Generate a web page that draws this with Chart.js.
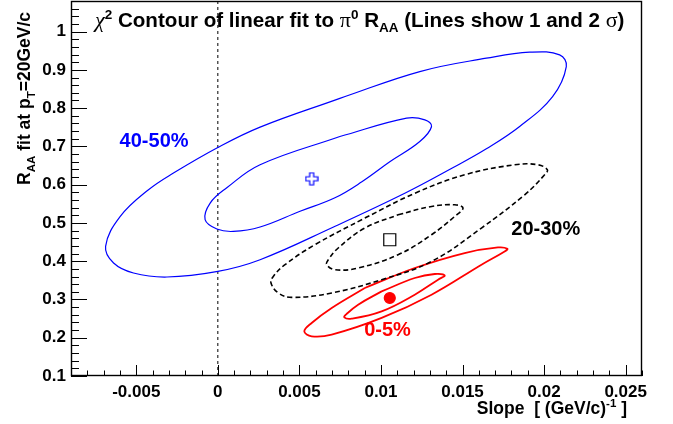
<!DOCTYPE html>
<html>
<head>
<meta charset="utf-8">
<script src="https://cdn.jsdelivr.net/npm/chart.js@4"></script>
<style>
  html, body { margin: 0; padding: 0; background: #fff; }
  canvas { display: block; }
</style>
</head>
<body>
<canvas id="chart" width="673" height="424"></canvas>
<script>
// Chi-square contours (1 and 2 sigma) of the linear R_AA fit, per centrality class.
// Each contour is a closed list of [slope, R_AA] points.

const xRange = [-0.009, 0.026];
const yRange = [0.1, 1.08];

const xTickValues = [-0.005, 0, 0.005, 0.01, 0.015, 0.02, 0.025];
const xTickLabels = ['-0.005', '0', '0.005', '0.01', '0.015', '0.02', '0.025'];
const yTickValues = [0.1, 0.2, 0.3, 0.4, 0.5, 0.6, 0.7, 0.8, 0.9, 1.0];
const yTickLabels = ['0.1', '0.2', '0.3', '0.4', '0.5', '0.6', '0.7', '0.8', '0.9', '1'];

// 40-50%
const central4050 = [0.00575, 0.6154];
const sigma2_4050 = [
  [0.00748, 0.8256], [0.01238, 0.8956], [0.01646, 0.9305], [0.01911, 0.9462], [0.02095, 0.9392],
  [0.02136, 0.9086], [0.02052, 0.8303], [0.0185, 0.752], [0.01646, 0.6937], [0.0144, 0.6441],
  [0.01146, 0.5775], [0.00706, 0.4888], [0.00259, 0.4039], [0, 0.3734], [-0.00312, 0.3587],
  [-0.00517, 0.3692], [-0.00639, 0.3953], [-0.00688, 0.4386], [-0.00598, 0.517], [-0.00425, 0.5867],
  [-0.00272, 0.6303], [0, 0.6971], [0.00259, 0.7504]
];
const sigma1_4050 = [
  [0.00748, 0.7258], [0.01157, 0.7739], [0.01269, 0.7695], [0.0131, 0.752], [0.01238, 0.7128],
  [0.01054, 0.6598], [0.00883, 0.6076], [0.00718, 0.5658], [0.00504, 0.5305], [0.00259, 0.4893],
  [0.00095, 0.4778], [-0.00006, 0.484], [-0.00078, 0.5084], [-0.00047, 0.552], [0.00055, 0.5919],
  [0.00259, 0.652]
];

// 20-30%
const central2030 = [0.01054, 0.4561];
const sigma2_2030 = [
  [0.00901, 0.5128], [0.01207, 0.5775], [0.01513, 0.6258], [0.0182, 0.652], [0.01962, 0.652],
  [0.0202, 0.6389], [0.02003, 0.6258], [0.01881, 0.5736], [0.01616, 0.4867], [0.0131, 0.3995],
  [0.01004, 0.3517], [0.00698, 0.317], [0.00453, 0.3055], [0.00371, 0.317], [0.00326, 0.3431],
  [0.0034, 0.3603], [0.00412, 0.3909], [0.00595, 0.4431]
];
const sigma1_2030 = [
  [0.01105, 0.5214], [0.0131, 0.5431], [0.01452, 0.5475], [0.01503, 0.5389], [0.01452, 0.517],
  [0.0131, 0.4692], [0.01105, 0.417], [0.0086, 0.3822], [0.00718, 0.3778], [0.00667, 0.3909],
  [0.00677, 0.4039], [0.00738, 0.4345], [0.00901, 0.4867]
];

// 0-5%
const central005 = [0.01054, 0.3039];
const sigma2_005 = [
  [0.00901, 0.33], [0.01207, 0.3822], [0.01513, 0.4214], [0.01717, 0.436], [0.01775, 0.4326],
  [0.01758, 0.4256], [0.01616, 0.3909], [0.0131, 0.3125], [0.01004, 0.2517], [0.00698, 0.2081],
  [0.00575, 0.2037], [0.0053, 0.2167], [0.00575, 0.2386], [0.00698, 0.2778]
];
const sigma1_005 = [
  [0.01004, 0.3211], [0.01207, 0.3561], [0.0133, 0.3666], [0.01391, 0.3629], [0.0135, 0.3517],
  [0.01207, 0.3125], [0.01004, 0.2689], [0.0082, 0.2499], [0.00775, 0.2533], [0.00789, 0.2621],
  [0.0086, 0.2864]
];

const classLabels = [
  { text: '40-50%', color: '#0000ff', at: [-0.00602, 0.6982] },
  { text: '20-30%', color: '#000000', at: [0.01799, 0.4692] },
  { text: '0-5%', color: '#ff0000', at: [0.00897, 0.2037] }
];

const SANS = '"Liberation Sans", Arial, Helvetica, sans-serif';
const SERIF = '"Liberation Serif", "DejaVu Serif", serif';

function toPoints(list) {
  const pts = list.map(p => ({ x: p[0], y: p[1] }));
  pts.push({ x: list[0][0], y: list[0][1] });
  return pts;
}

function contour(list, color, width, dash) {
  return {
    data: toPoints(list),
    showLine: true,
    borderColor: color,
    borderWidth: width,
    borderDash: dash || [],
    tension: 0.4,
    pointRadius: 0,
    fill: false
  };
}

// open cross marker
function openCross(size, color) {
  const c = document.createElement('canvas');
  c.width = size + 2;
  c.height = size + 2;
  const g = c.getContext('2d');
  const o = 1, a = size / 3;
  g.strokeStyle = color;
  g.lineWidth = 1.2;
  g.fillStyle = '#fff';
  g.beginPath();
  g.moveTo(o + a, o);
  g.lineTo(o + 2 * a, o);
  g.lineTo(o + 2 * a, o + a);
  g.lineTo(o + size, o + a);
  g.lineTo(o + size, o + 2 * a);
  g.lineTo(o + 2 * a, o + 2 * a);
  g.lineTo(o + 2 * a, o + size);
  g.lineTo(o + a, o + size);
  g.lineTo(o + a, o + 2 * a);
  g.lineTo(o, o + 2 * a);
  g.lineTo(o, o + a);
  g.lineTo(o + a, o + a);
  g.closePath();
  g.fill();
  g.stroke();
  return c;
}

function marker(pt, style, radius, color, fill) {
  return {
    data: [{ x: pt[0], y: pt[1] }],
    showLine: false,
    pointStyle: style,
    pointRadius: radius,
    pointBorderColor: color,
    pointBackgroundColor: fill,
    pointBorderWidth: 1.2
  };
}

// draws a run of text pieces with their own fonts and vertical shifts
function richWidth(ctx, parts) {
  let w = 0;
  parts.forEach(p => { ctx.font = p.font; w += ctx.measureText(p.t).width; });
  return w;
}
function drawRich(ctx, parts, x, y) {
  let cx = x;
  parts.forEach(p => {
    ctx.font = p.font;
    ctx.fillText(p.t, cx, y + (p.dy || 0));
    cx += ctx.measureText(p.t).width;
  });
}

const rootFrame = {
  id: 'rootFrame',
  afterDraw(chart) {
    const { ctx, chartArea: a, scales: { x, y } } = chart;
    ctx.save();
    ctx.strokeStyle = '#000';
    ctx.lineWidth = 1;

    // ticks drawn inward from the left and bottom axes
    ctx.beginPath();
    for (let i = -9; i <= 26; i++) {
      const px = Math.round(x.getPixelForValue(i / 1000)) + 0.5;
      const len = i % 5 === 0 ? 11 : 5.5;
      ctx.moveTo(px, a.bottom);
      ctx.lineTo(px, a.bottom - len);
    }
    for (let i = 5; i <= 54; i++) {
      const py = Math.round(y.getPixelForValue(i * 0.02)) + 0.5;
      const len = i % 5 === 0 ? 16 : 8;
      ctx.moveTo(a.left, py);
      ctx.lineTo(a.left + len, py);
    }
    ctx.stroke();

    ctx.lineWidth = 1.4;
    ctx.strokeRect(a.left + 0.5, a.top + 0.5, a.right - a.left - 1, a.bottom - a.top - 1);

    // centrality labels
    ctx.font = 'bold 20px ' + SANS;
    ctx.textBaseline = 'alphabetic';
    ctx.textAlign = 'left';
    classLabels.forEach(l => {
      ctx.fillStyle = l.color;
      ctx.fillText(l.text, x.getPixelForValue(l.at[0]), y.getPixelForValue(l.at[1]));
    });

    ctx.fillStyle = '#000';
    const big = 'bold 20.6px ' + SANS;
    const small = 'bold 13.5px ' + SANS;

    // plot title
    drawRich(ctx, [
      { t: 'χ', font: 'italic 22px ' + SERIF },
      { t: '2', font: small, dy: -8 },
      { t: ' Contour of linear fit to ', font: big },
      { t: 'π', font: '22px ' + SERIF },
      { t: '0', font: small, dy: -8 },
      { t: ' R', font: big },
      { t: 'AA', font: small, dy: 5 },
      { t: ' (Lines show 1 and 2 ', font: big },
      { t: 'σ', font: '22px ' + SERIF },
      { t: ')', font: big }
    ], 95, 27);

    const axisFont = 'bold 17.5px ' + SANS;
    const axisSmall = 'bold 11.5px ' + SANS;

    // x axis title, right aligned
    const xTitle = [
      { t: 'Slope  [ (GeV/c)', font: axisFont },
      { t: '-1', font: axisSmall, dy: -7 },
      { t: ' ]', font: axisFont }
    ];
    drawRich(ctx, xTitle, 627 - richWidth(ctx, xTitle), 414);

    // y axis title, rotated, ending near the top
    const yTitle = [
      { t: 'R', font: axisFont },
      { t: 'AA', font: axisSmall, dy: 5 },
      { t: ' fit at p', font: axisFont },
      { t: 'T', font: axisSmall, dy: 5 },
      { t: '=20GeV/c', font: axisFont }
    ];
    ctx.translate(30, 12);
    ctx.rotate(-Math.PI / 2);
    drawRich(ctx, yTitle, -richWidth(ctx, yTitle), 0);
    ctx.restore();
  }
};

const zeroLine = {
  data: [{ x: 0, y: yRange[0] }, { x: 0, y: yRange[1] }],
  showLine: true,
  borderColor: '#000',
  borderWidth: 1,
  borderDash: [3, 3],
  pointRadius: 0
};

new Chart(document.getElementById('chart'), {
  type: 'scatter',
  data: {
    datasets: [
      marker(central4050, openCross(12, '#0000ff'), 7, '#0000ff', '#fff'),
      marker(central2030, 'rect', 8.5, '#000', '#fff'),
      marker(central005, 'circle', 5.5, '#ff0000', '#ff0000'),
      contour(sigma2_4050, '#0000ff', 1.2),
      contour(sigma1_4050, '#0000ff', 1.2),
      contour(sigma2_2030, '#000', 1.6, [5, 3]),
      contour(sigma1_2030, '#000', 1.6, [5, 3]),
      contour(sigma2_005, '#ff0000', 1.8),
      contour(sigma1_005, '#ff0000', 1.8),
      zeroLine
    ]
  },
  options: {
    responsive: false,
    animation: false,
    devicePixelRatio: 1,
    layout: { autoPadding: false, padding: { left: 0, right: 31, top: 1, bottom: 0 } },
    plugins: { legend: { display: false }, tooltip: { enabled: false } },
    scales: {
      x: {
        type: 'linear',
        min: xRange[0],
        max: xRange[1],
        grid: { display: false, drawTicks: false },
        border: { display: false },
        afterBuildTicks: s => { s.ticks = xTickValues.map(v => ({ value: v })); },
        afterFit: s => { s.height = 48; s.paddingLeft = 0; s.paddingRight = 0; },
        ticks: {
          color: '#000',
          padding: 6,
          maxRotation: 0,
          autoSkip: false,
          font: { family: SANS, size: 17, weight: 'bold' },
          callback: (v, i) => xTickLabels[i]
        }
      },
      y: {
        type: 'linear',
        min: yRange[0],
        max: yRange[1],
        grid: { display: false, drawTicks: false },
        border: { display: false },
        afterBuildTicks: s => { s.ticks = yTickValues.map(v => ({ value: v })); },
        afterFit: s => { s.width = 71; s.paddingTop = 0; s.paddingBottom = 0; },
        ticks: {
          color: '#000',
          padding: 5,
          autoSkip: false,
          font: { family: SANS, size: 17, weight: 'bold' },
          callback: (v, i) => yTickLabels[i]
        }
      }
    }
  },
  plugins: [rootFrame]
});
</script>
</body>
</html>
